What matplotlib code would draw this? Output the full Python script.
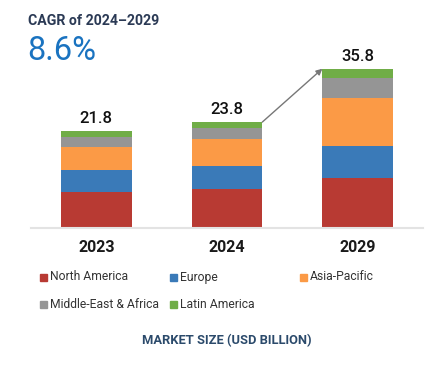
import matplotlib.pyplot as plt
from matplotlib.patches import Rectangle

plt.rcParams['font.family'] = ['Roboto', 'DejaVu Sans']

years = ['2023', '2024', '2029']
regions = ['North America', 'Europe', 'Asia-Pacific', 'Middle-East & Africa', 'Latin America']
north_america = [8.1, 8.8, 11.2]
europe = [4.9, 5.2, 7.2]
asia_pacific = [5.3, 6.0, 10.9]
mea = [2.2, 2.5, 4.4]
latin_america = [1.3, 1.3, 2.1]
totals = [21.8, 23.8, 35.8]
colors = ['#b83a33', '#3a7ab8', '#fb9a46', '#959595', '#70ad47']

series = [north_america, europe, asia_pacific, mea, latin_america]

W, H = 435, 365
fig = plt.figure(figsize=(W / 100, H / 100), dpi=100)
ax = fig.add_axes([31 / W, 1 - 228 / H, 392 / W, 178 / H])

x = list(range(len(years)))
bw = 0.54
bottom = [0.0] * len(years)
for vals, col in zip(series, colors):
    ax.bar(x, vals, bw, bottom=bottom, color=col, edgecolor='none', zorder=2)
    bottom = [b + v for b, v in zip(bottom, vals)]

for xi, t in zip(x, totals):
    ax.annotate(f'{t:.1f}', (xi, t), xytext=(0, 5.5), textcoords='offset points',
                ha='center', va='baseline', fontsize=12, fontweight='medium',
                color='#111111')

# growth arrow from 2024 bar top to 2029 bar top
ax.annotate('', xy=(2 - bw / 2, totals[2]), xytext=(1 + bw / 2, totals[1]),
            arrowprops=dict(arrowstyle='-|>', color='#777777', lw=1,
                            mutation_scale=9, shrinkA=0, shrinkB=0))

ax.set_xlim(-0.5, 2.5)
ax.set_ylim(0, 40)
ax.set_xticks(x)
ax.set_xticklabels(years, fontsize=11.5, fontweight='bold', color='#1a1a1a')
ax.tick_params(axis='x', length=0, pad=9)
ax.set_yticks([])
for s in ['top', 'right', 'left']:
    ax.spines[s].set_visible(False)
ax.spines['bottom'].set_color('#e3e3e3')
ax.spines['bottom'].set_linewidth(1.5)

# titles
fig.text(28 / W, 1 - 21 / H, 'CAGR of 2024\u20132029', fontsize=10.2, fontweight='bold',
         color='#2b3a55', va='center', ha='left')
fig.text(27 / W, 1 - 51 / H, '8.6%', fontsize=23.5, color='#1a73c0', va='center', ha='left')

# legend
leg_pos = [(43, 277), (173, 277), (303, 277), (43, 304), (173, 304)]
for (px, py), name, col in zip(leg_pos, regions, colors):
    fig.patches.append(Rectangle((px / W - 3 / W, 1 - (py + 3.5) / H), 7 / W, 7 / H,
                                 transform=fig.transFigure, color=col))
    fig.text((px + 7) / W, 1 - py / H, name, fontsize=8.7, color='#333333',
             va='center', ha='left')

fig.text(227 / W, 1 - 341 / H, 'MARKET SIZE (USD BILLION)', fontsize=9.3, fontweight='bold',
         color='#2b4a6b', va='center', ha='center')

fig.savefig('out.png', dpi=100)
